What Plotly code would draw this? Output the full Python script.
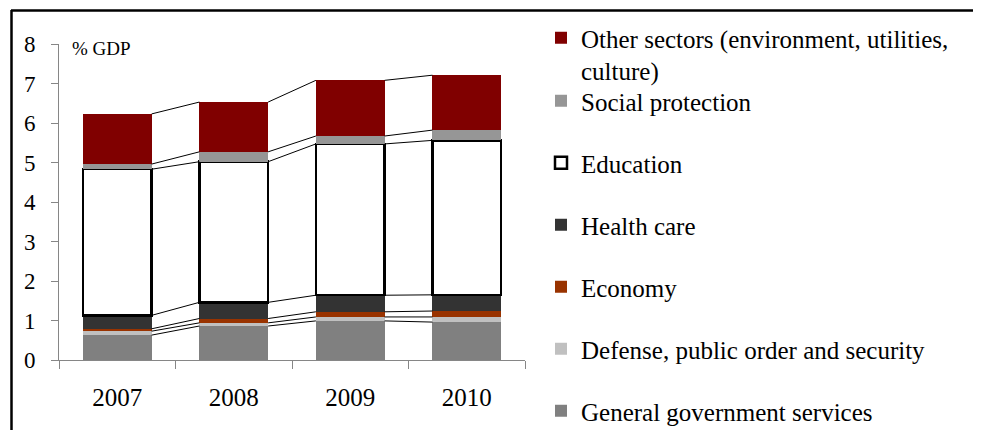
import plotly.graph_objects as go

# ---- data ----
years = ["2007", "2008", "2009", "2010"]
general_gov = [0.63, 0.86, 0.99, 0.96]
defense = [0.10, 0.08, 0.10, 0.13]
economy = [0.06, 0.11, 0.13, 0.15]
health = [0.34, 0.41, 0.42, 0.41]
education = [3.70, 3.56, 3.83, 3.91]
social = [0.13, 0.25, 0.20, 0.26]
other = [1.27, 1.26, 1.41, 1.39]
y_ticks = [0, 1, 2, 3, 4, 5, 6, 7, 8]

names = [
    "General government services",
    "Defense, public order and security",
    "Economy",
    "Health care",
    "Education",
    "Social protection",
    "Other sectors (environment, utilities,<br>culture)",
]
values = [general_gov, defense, economy, health, education, social, other]
colors = ["#808080", "#C0C0C0", "#993300", "#333333", "#FFFFFF", "#969696", "#800000"]
line_w = [0, 0, 0, 0, 2.5, 0, 0]
legend_ids = ["legend3", "legend3", "legend3", "legend2", "legend2", "legend2", "legend"]

FONT = "Liberation Serif"
OFF = 8                      # page body margin in the browser
W, H = 981 - OFF, 430 - OFF  # figure size so it fits the window
# plot area in page pixels: x 59..525, y 44..360
ML, MT = 59 - OFF, 44 - OFF
MR, MB = W - (525 - OFF), H - (360 - OFF)
PW, PH = W - ML - MR, H - MT - MB
BAR_W = 0.59

fig = go.Figure()

for k, (nm, vals, col, lw, lg) in enumerate(zip(names, values, colors, line_w, legend_ids)):
    fig.add_trace(go.Bar(
        x=years, y=vals, name=nm, width=BAR_W,
        marker=dict(color=col, line=dict(color="#000000", width=lw)),
        legend=lg, legendgroup="g%d" % k, legendrank=100 - k,
        hoverinfo="skip",
    ))

# series lines connecting the cumulative tops of neighbouring bars
cum = [0.0] * len(years)
for vals in values:
    cum = [c + v for c, v in zip(cum, vals)]
    xs, ys = [], []
    for i in range(len(years) - 1):
        xs += [i + BAR_W / 2, i + 1 - BAR_W / 2, None]
        ys += [cum[i], cum[i + 1], None]
    fig.add_trace(go.Scatter(
        x=xs, y=ys, xaxis="x2", mode="lines",
        line=dict(color="#000000", width=1), showlegend=False, hoverinfo="skip",
    ))

def px_x(p):  # page pixel -> paper fraction
    return (p - OFF - ML) / PW

def px_y(p):
    return (H - MB - (p - OFF)) / PH

def legend_at(top_px):
    return dict(
        x=(541 - OFF) / W, y=1 - (top_px - OFF) / H,
        xref="container", yref="container", xanchor="left", yanchor="top",
        font=dict(size=25, family=FONT), valign="top",
        traceorder="grouped", tracegroupgap=26.5,
        bgcolor="rgba(0,0,0,0)", itemclick=False, itemdoubleclick=False,
    )

fig.update_layout(
    width=W, height=H,
    margin=dict(l=ML, r=MR, t=MT, b=MB, autoexpand=False),
    barmode="stack",
    plot_bgcolor="white", paper_bgcolor="white",
    font=dict(family=FONT, color="#000000"),
    xaxis=dict(
        type="category", range=[-0.5, len(years) - 0.5],
        tickson="boundaries", ticks="outside", ticklen=8, tickcolor="#868686",
        showline=True, linecolor="#868686", linewidth=1, showgrid=False,
        tickfont=dict(size=25, family=FONT), ticklabelstandoff=15,
    ),
    xaxis2=dict(overlaying="x", range=[-0.5, len(years) - 0.5], visible=False),
    yaxis=dict(
        range=[0, 8], tickvals=y_ticks, ticks="outside", ticklen=7, tickcolor="#868686",
        showline=True, linecolor="#868686", linewidth=1, showgrid=False, zeroline=False,
        tickfont=dict(size=23, family=FONT), ticklabelstandoff=11,
    ),
    legend=legend_at(15),
    legend2=legend_at(78),
    legend3=legend_at(264),
    annotations=[dict(
        text="% GDP", xref="paper", yref="paper", x=px_x(70), y=px_y(49),
        xanchor="left", yanchor="middle", showarrow=False,
        font=dict(size=19, family=FONT),
    )],
    shapes=[
        dict(type="line", xref="paper", yref="paper",
             x0=px_x(11), x1=px_x(995), y0=px_y(10.5), y1=px_y(10.5),
             line=dict(color="#000000", width=2.5)),
        dict(type="line", xref="paper", yref="paper",
             x0=px_x(11.5), x1=px_x(11.5), y0=px_y(10), y1=px_y(445),
             line=dict(color="#000000", width=2.5)),
    ],
)

fig.write_html("out.html")
